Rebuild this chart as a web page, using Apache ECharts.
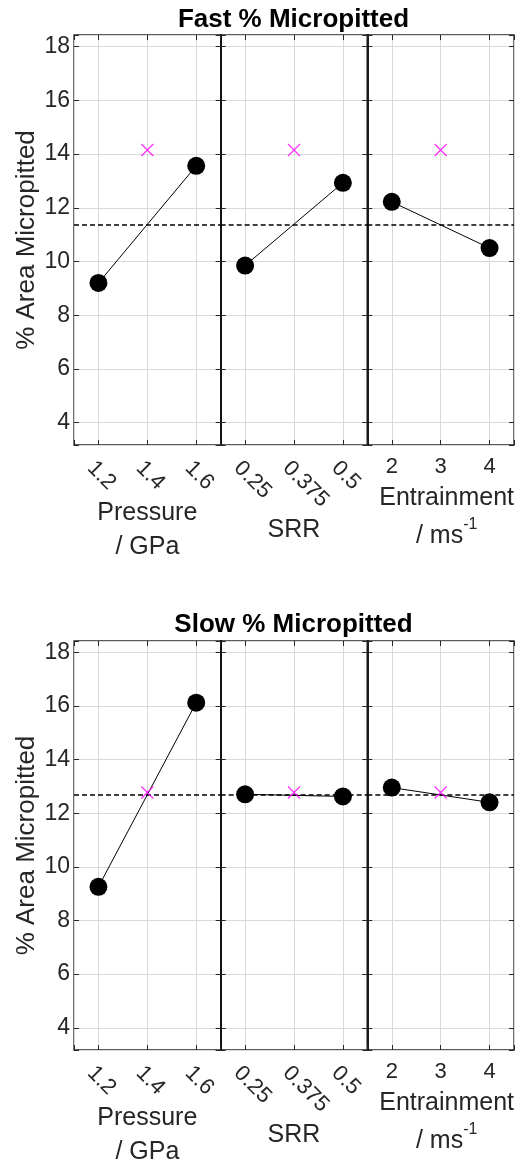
<!DOCTYPE html>
<html><head><meta charset="utf-8">
<script src="https://cdn.jsdelivr.net/npm/echarts@6/dist/echarts.min.js"></script>
<style>html,body{margin:0;padding:0;background:#fff}#c{width:531px;height:1160px}</style>
</head><body><div id="c"></div>
<script>
// ---------------- data ----------------
const chartTitles = ['Fast % Micropitted', 'Slow % Micropitted'];
const yAxisTitle = '% Area Micropitted';
const factorNames = ['Pressure\n/ GPa', 'SRR', '{a|Entrainment}\n{a|/ ms}{s|-1}'];
const pressureLevels = ['1.2', '1.4', '1.6'];
const srrLevels = ['0.25', '0.375', '0.5'];
const entrainmentLevels = ['2', '3', '4'];

// main effect means at low / high level of each factor
const fastPressure = [9.20, 13.56];
const fastSRR = [9.85, 12.93];
const fastEntrainment = [12.22, 10.50];
const fastCentrePoint = 14.15;
const fastMean = 11.37;

const slowPressure = [9.26, 16.13];
const slowSRR = [12.71, 12.63];
const slowEntrainment = [12.96, 12.41];
const slowCentrePoint = 12.78;
const slowMean = 12.68;

// ---------------- layout / style ----------------
const FONT = '"Liberation Sans", Arial, Helvetica, sans-serif';
const TXT = '#262626';
const GRIDC = '#d9d9d9';
const panelLeft = [74, 220.67, 367.33];
const panelWidth = 146.67;
const chartTop = [35, 641];
const chartHeight = [410, 409];
const titleTop = [5, 610];

const levelSets = [pressureLevels, srrLevels, entrainmentLevels];
const effects = [[fastPressure, fastSRR, fastEntrainment], [slowPressure, slowSRR, slowEntrainment]];
const centres = [fastCentrePoint, slowCentrePoint];
const means = [fastMean, slowMean];

const grid = [], xAxis = [], yAxis = [], series = [], title = [];

function isWhole(v) { return Math.abs(v - Math.round(v)) < 1e-6; }

for (let c = 0; c < 2; c++) {
  title.push({
    text: chartTitles[c], left: 293.5, top: titleTop[c], textAlign: 'center', padding: 0,
    textStyle: { fontSize: 26, fontWeight: 'bold', color: '#000', fontFamily: FONT, lineHeight: 30 }
  });
  for (let p = 0; p < 3; p++) {
    const g = grid.length;
    grid.push({
      left: panelLeft[p], top: chartTop[c], width: panelWidth, height: chartHeight[c],
      show: true, borderColor: '#262626', borderWidth: 1.3, backgroundColor: 'transparent',
      containLabel: false, outerBoundsMode: 'none'
    });
    const levels = levelSets[p];
    const rotated = p < 2;
    const nameCfg = [
      { gap: 51, style: { fontSize: 25, lineHeight: 34 } },
      { gap: 68, style: { fontSize: 25, lineHeight: 34 } },
      { gap: 34, style: { fontSize: 25, lineHeight: 38, padding: [0, 0, 0, 12],
          rich: {
            a: { fontSize: 25, lineHeight: 38, color: TXT, fontFamily: FONT },
            s: { fontSize: 16, lineHeight: 16, verticalAlign: 'top', color: TXT, fontFamily: FONT }
          } } }
    ][p];
    const labelCfg = rotated
      ? { rotate: -45, margin: 12, verticalAlign: 'top' }
      : { rotate: 0, margin: 11 };
    // bottom x axis
    xAxis.push({
      gridIndex: g, type: 'value', position: 'bottom', min: -0.5, max: 2.5, splitNumber: 3,
      axisLine: { show: false, onZero: false },
      axisTick: { show: true, inside: true, length: 5, lineStyle: { color: TXT, width: 1 } },
      splitLine: { show: true, lineStyle: { color: GRIDC, width: 1 } },
      axisLabel: Object.assign({
        show: true, fontSize: 22, color: TXT, fontFamily: FONT,
        formatter: v => (isWhole(v) && levels[Math.round(v)] !== undefined) ? levels[Math.round(v)] : ''
      }, labelCfg),
      name: factorNames[p], nameLocation: 'middle', nameGap: nameCfg.gap, nameMoveOverlap: false,
      nameTextStyle: Object.assign({ color: TXT, fontFamily: FONT }, nameCfg.style)
    });
    // top x axis (ticks only)
    xAxis.push({
      gridIndex: g, type: 'value', position: 'top', min: -0.5, max: 2.5, splitNumber: 3,
      axisLine: { show: false, onZero: false }, splitLine: { show: false }, axisLabel: { show: false },
      axisTick: { show: true, inside: true, length: 5, lineStyle: { color: TXT, width: 1 } }
    });
    // left y axis
    yAxis.push({
      gridIndex: g, type: 'value', position: 'left', min: 3.17, max: 18.43, splitNumber: 8,
      axisLine: { show: p > 0, onZero: false, lineStyle: { color: '#000', width: 1.8 } },
      axisTick: { show: true, inside: true, length: 5, lineStyle: { color: TXT, width: 1 } },
      splitLine: { show: true, lineStyle: { color: GRIDC, width: 1 } },
      axisLabel: {
        show: p === 0, fontSize: 23, color: TXT, fontFamily: FONT, margin: 4,
        formatter: v => isWhole(v) ? String(Math.round(v)) : ''
      },
      name: p === 0 ? yAxisTitle : '', nameLocation: 'middle', nameGap: 34, nameMoveOverlap: false,
      nameTextStyle: { fontSize: 26, color: TXT, fontFamily: FONT }
    });
    // right y axis (ticks only)
    yAxis.push({
      gridIndex: g, type: 'value', position: 'right', min: 3.17, max: 18.43, splitNumber: 8,
      axisLine: { show: false, onZero: false }, splitLine: { show: false }, axisLabel: { show: false },
      axisTick: { show: true, inside: true, length: 5, lineStyle: { color: TXT, width: 1 } }
    });
    const eff = effects[c][p];
    series.push({
      type: 'line', xAxisIndex: 2 * g, yAxisIndex: 2 * g,
      data: [[0, eff[0]], [2, eff[1]]],
      symbol: 'circle', symbolSize: 18, z: 4,
      itemStyle: { color: '#000' }, lineStyle: { color: '#000', width: 1 },
      markLine: {
        silent: true, symbol: ['none', 'none'], label: { show: false },
        lineStyle: { color: '#000', type: [5, 3], width: 1.7 },
        data: [{ yAxis: means[c] }], z: 2
      }
    });
    series.push({
      type: 'scatter', xAxisIndex: 2 * g, yAxisIndex: 2 * g,
      data: [[1, centres[c]]],
      symbol: 'path://M0,0L10,10M10,0L0,10', symbolSize: 12, z: 5,
      itemStyle: { color: 'none', borderColor: '#ff00ff', borderWidth: 1.3 }
    });
  }
}

const chart = echarts.init(document.getElementById('c'), null, { renderer: 'canvas' });
chart.setOption({
  animation: false, backgroundColor: '#fff',
  title, grid, xAxis, yAxis, series
});
</script>
</body></html>
